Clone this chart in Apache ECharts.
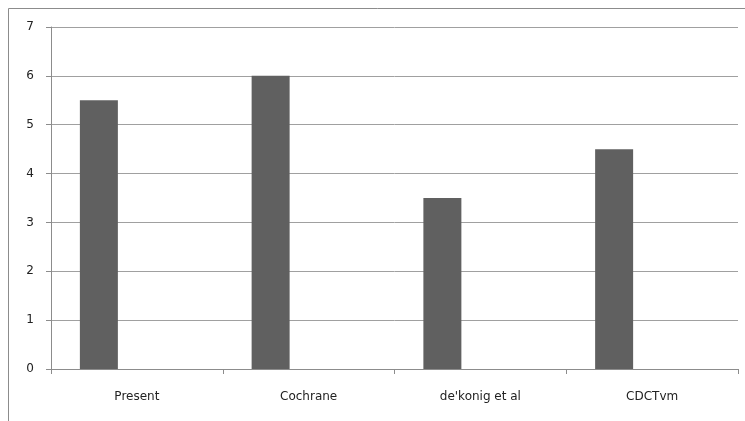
<!DOCTYPE html>
<html><head><meta charset="utf-8">
<script src="https://cdn.jsdelivr.net/npm/echarts@6/dist/echarts.min.js"></script>
<style>html,body{margin:0;padding:0;background:#fff}#c{width:745px;height:421px}</style>
</head><body><div id="c"></div>
<script>
const categories = ['Present', 'Cochrane', "de'konig et al", 'CDCTvm'];
const series1 = [5.5, 6, 3.5, 4.5];
const series2 = [];
const series3 = [];
const yTicks = [0, 1, 2, 3, 4, 5, 6, 7];

const chart = echarts.init(document.getElementById('c'), null, {renderer: 'canvas'});
const barStyle = {barWidth: 38, barGap: '0%'};
chart.setOption({
  animation: false,
  graphic: [{
    type: 'rect', shape: {x: 8.5, y: 8.5, width: 800, height: 500},
    style: {fill: 'none', stroke: '#8c8c8c', lineWidth: 1}, silent: true
  }],
  grid: {left: 51, top: 27, right: 7, bottom: 52, containLabel: false},
  xAxis: {
    type: 'category', data: categories,
    axisLine: {lineStyle: {color: '#8c8c8c'}},
    axisTick: {show: true, length: 5, lineStyle: {color: '#8c8c8c'}},
    axisLabel: {color: '#222', fontFamily: 'DejaVu Sans', fontSize: 12, margin: 22}
  },
  yAxis: {
    type: 'value', min: yTicks[0], max: yTicks[yTicks.length - 1], interval: 1,
    axisLine: {show: true, lineStyle: {color: '#8c8c8c'}},
    axisTick: {show: true, length: 5, lineStyle: {color: '#8c8c8c'}},
    splitLine: {lineStyle: {color: '#a0a0a0'}},
    axisLabel: {color: '#222', fontFamily: 'DejaVu Sans', fontSize: 12, margin: 17}
  },
  series: [
    Object.assign({type: 'bar', data: series1, itemStyle: {color: '#606060'}}, barStyle),
    Object.assign({type: 'bar', data: series2, itemStyle: {color: '#909090'}}, barStyle),
    Object.assign({type: 'bar', data: series3, itemStyle: {color: '#b0b0b0'}}, barStyle)
  ]
});
</script></body></html>
